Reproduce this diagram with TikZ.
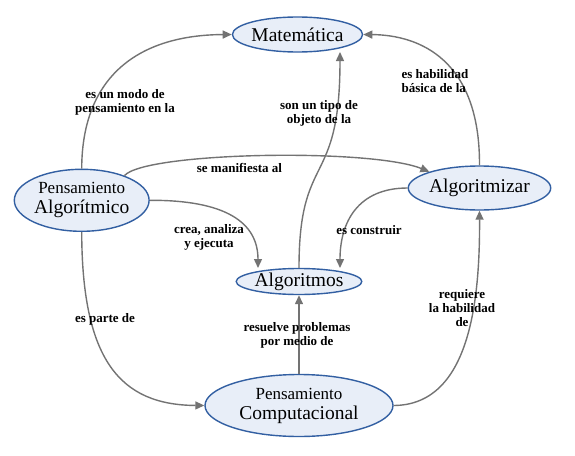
\documentclass[tikz,border=0pt]{standalone}
\usepackage{fontspec}
\setmainfont{Liberation Serif}
\usetikzlibrary{shapes.geometric,arrows.meta}
\definecolor{nodefill}{RGB}{232,238,248}
\definecolor{nodeline}{RGB}{50,95,162}
\definecolor{edgegray}{RGB}{115,115,115}
\tikzset{
  concept/.style={ellipse, draw=nodeline, fill=nodefill, line width=1.4pt, inner sep=0pt, align=center, font=\fontsize{19.5}{20}\selectfont},
  link/.style={draw=edgegray, line width=1.4pt, -{Triangle[length=9pt,width=8pt]}},
  lbl/.style={font=\fontsize{13}{14}\selectfont\bfseries, align=center, inner sep=0pt}
}
\begin{document}
\begin{tikzpicture}[x=1pt,y=-1pt]
\useasboundingbox (0,0) rectangle (575,455);
% nodes
\node[concept, minimum width=119pt, minimum height=35pt] (mat) at (297.5,34.5) {Matemática};
\node[concept, minimum width=122pt, minimum height=62pt] (pa) at (81.7,200.3) {{\fontsize{17}{20}\selectfont Pensamiento}\\Algorítmico};
\node[concept, minimum width=135pt, minimum height=44pt] (alz) at (479.5,188) {Algoritmizar};
\node[concept, minimum width=116pt, minimum height=26pt] (alg) at (299,281.5) {Algoritmos};
\node[concept, minimum width=188pt, minimum height=62pt] (pc) at (299,405.5) {{\fontsize{17}{20}\selectfont Pensamiento}\\Computacional};
% connector anchors
\coordinate (paN) at (pa.north);
\coordinate (paS) at (pa.south);
\coordinate (paE) at (pa.east);
\coordinate (paNE) at (pa.30);
\coordinate (matW) at (mat.west);
\coordinate (matE) at (mat.east);
\coordinate (matS) at (340,52);
\coordinate (alzN) at (alz.north);
\coordinate (alzS) at (alz.south);
\coordinate (alzW) at (alz.west);
\coordinate (alzNW) at (alz.162);
\coordinate (algN) at (alg.north);
\coordinate (algS) at (alg.south);
\coordinate (algNW) at (258,268);
\coordinate (algNE) at (340,268);
\coordinate (pcN) at (pc.north);
\coordinate (pcW) at (pc.west);
\coordinate (pcE) at (pc.east);
% connectors
\draw[link] (paN) .. controls (82,75) and (140,35) .. (matW);
\draw[link] (paNE) .. controls (145,152) and (370,148) .. (alzNW);
\draw[link] (paE) .. controls (225,200) and (258,222) .. (algNW);
\draw[link] (algN) .. controls (299,150) and (340,190) .. (matS);
\draw[link] (alzW) .. controls (358,188) and (340,222) .. (algNE);
\draw[link] (alzN) .. controls (480,60) and (420,35) .. (matE);
\draw[link] (paS) .. controls (82,360) and (120,405) .. (pcW);
\draw[link] (pcN) -- (algS);
\draw[link] (pcE) .. controls (470,405) and (480,300) .. (alzS);
% labels
\node[lbl] (l1) at (125,102) {es un modo de\\pensamiento en la};
\node[lbl] (l2) at (239.5,168) {se manifiesta al};
\node[lbl] (l3) at (209,237) {crea, analiza\\y ejecuta};
\node[lbl] (l4) at (319,113.5) {son un tipo de\\objeto de la};
\node[lbl, align=left] (l5) at (435,81.5) {es habilidad\\básica de la};
\node[lbl] (l6) at (369,230) {es construir};
\node[lbl] (l7) at (105,319) {es parte de};
\node[lbl] (l8) at (297,335) {resuelve problemas\\por medio de};
\node[lbl] (l9) at (462,308) {requiere\\la habilidad\\de};
\end{tikzpicture}
\end{document}
